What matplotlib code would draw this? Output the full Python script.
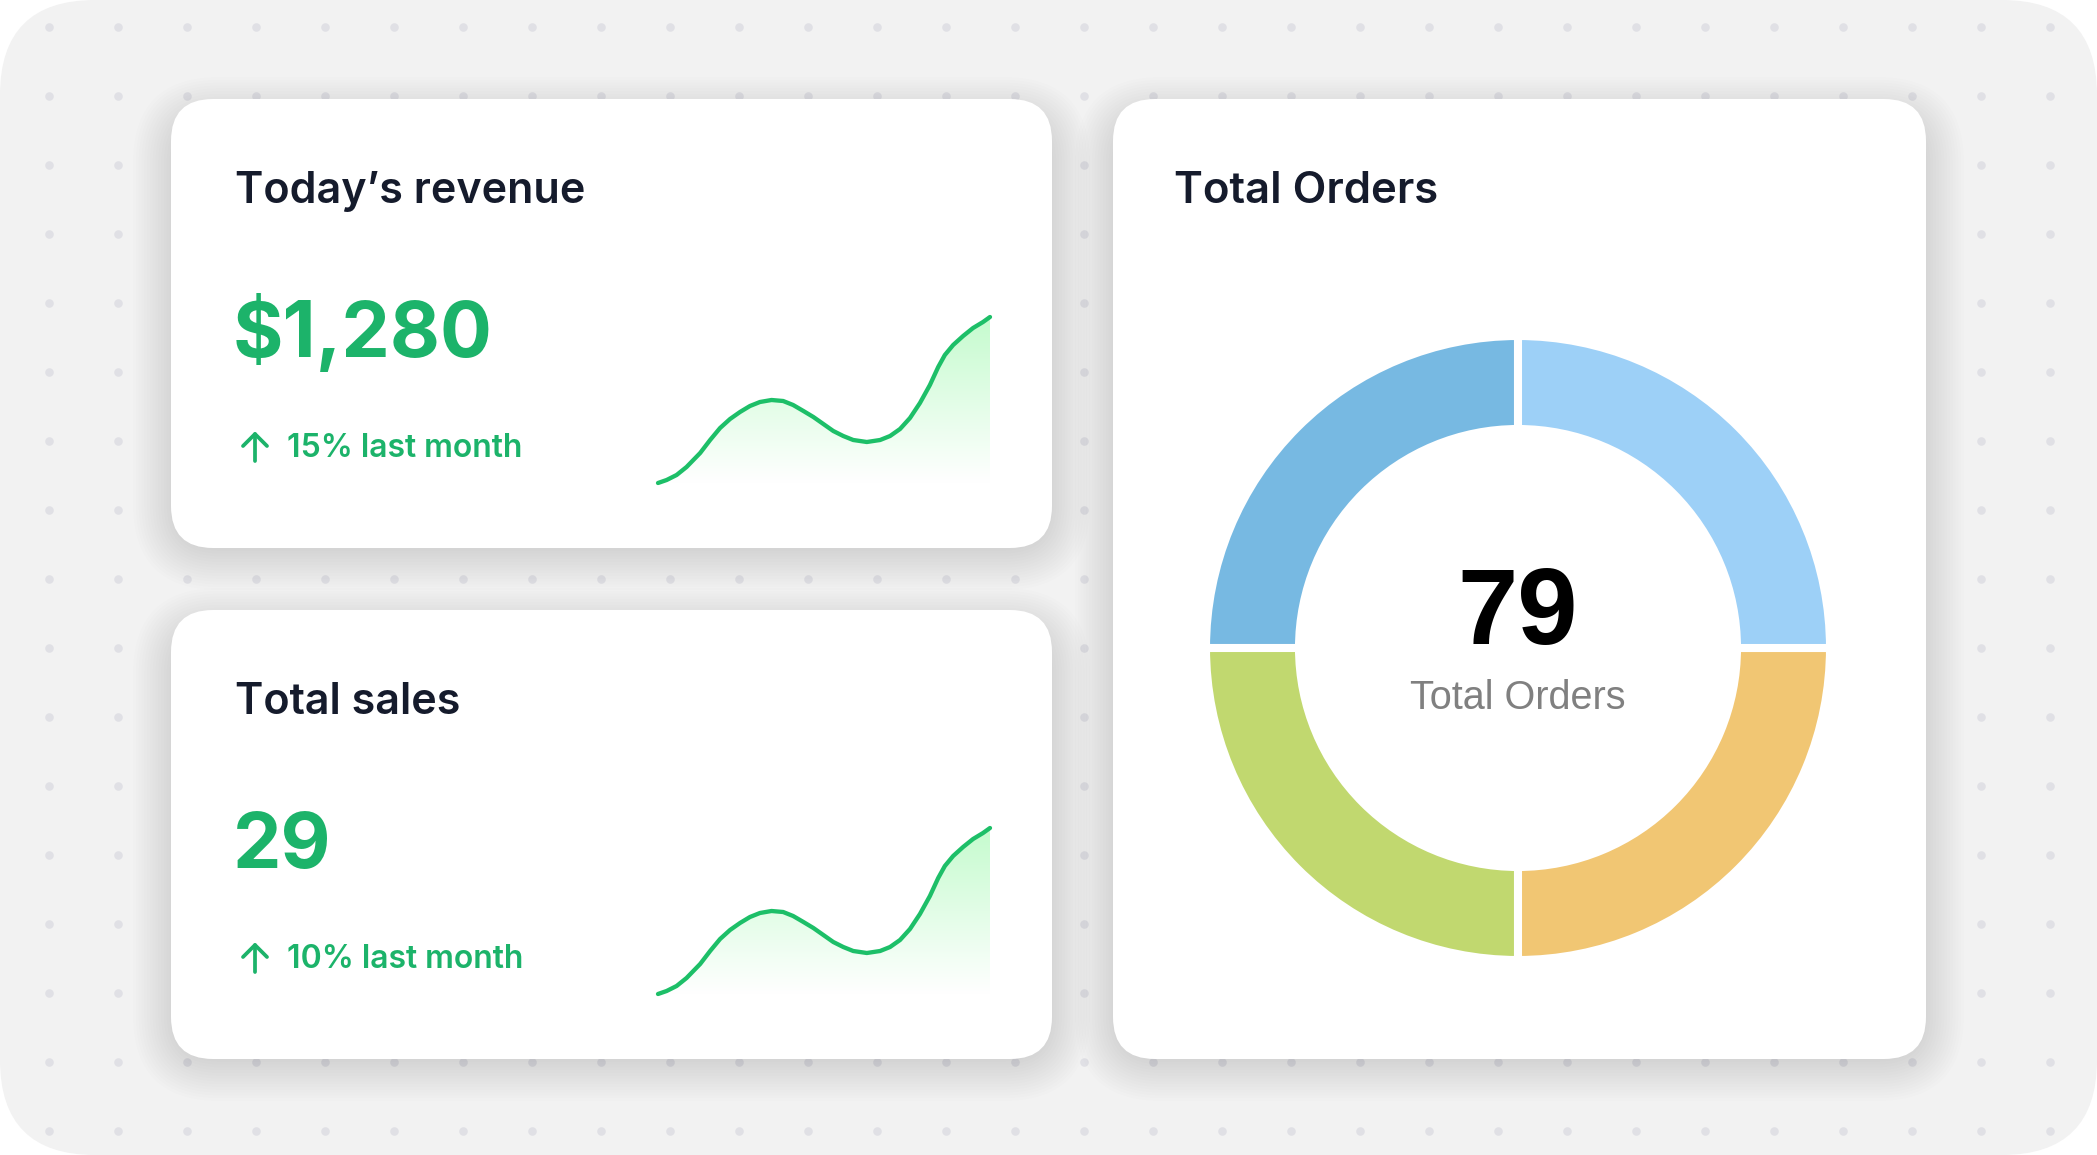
import numpy as np
import matplotlib.pyplot as plt
from matplotlib.patches import FancyBboxPatch
from matplotlib.colors import LinearSegmentedColormap

W, H = 2097, 1155

# card texts
revenue_title = "Today\u2019s revenue"
revenue_value = "$1,280"
revenue_change = "15% last month"
sales_title = "Total sales"
sales_value = "29"
sales_change = "10% last month"
orders_title = "Total Orders"
orders_total = "79"
orders_label = "Total Orders"

# sparkline readings (relative position, height above baseline)
trend_t = [0, 2.6, 5.6, 8.6, 12.7, 15.7, 18.7, 21.7, 24.7, 27.7, 30.7, 34.2,
           37.7, 40.7, 43.8, 46.8, 49.8, 52.8, 55.8, 58.8, 62.9, 66.9, 69.9,
           72.9, 75.9, 78.9, 81.9, 84.4, 86.4, 88.9, 91.9, 94.9, 97.9, 100]
revenue_trend = [0, 3, 8, 16, 30, 43, 55, 64, 71, 77, 81, 83, 82, 78, 72, 66, 59,
                 52, 47, 43, 41, 43, 47, 54, 65, 80, 98, 116, 128, 138, 147, 155,
                 161, 166]
sales_trend = [0, 3, 8, 16, 30, 43, 55, 64, 71, 77, 81, 83, 82, 78, 72, 66, 59,
               52, 47, 43, 41, 43, 47, 54, 65, 80, 98, 116, 128, 138, 147, 155,
               161, 166]

# donut segments (equal quarters)
order_share = [25, 25, 25, 25]
order_colors = ['#77b9e2', '#c1d86f', '#f1c673', '#9dd0f7']

green = '#1cb36a'
navy = '#151b2c'

fig = plt.figure(figsize=(W / 100, H / 100), dpi=100)
fig.patch.set_facecolor('white')
bg = fig.add_axes([0, 0, 1, 1])
bg.set_xlim(0, W)
bg.set_ylim(H, 0)
bg.axis('off')

# background panel with dots
bg.add_patch(FancyBboxPatch((0, 0), W, H, boxstyle="round,pad=0,rounding_size=95",
                            fc='#f2f2f2', ec='none', zorder=0))
dx, dy = np.meshgrid(np.arange(49, W, 69), np.arange(27, H, 69))
bg.scatter(dx.ravel(), dy.ravel(), s=38, color='#e0e0e5', lw=0, zorder=1)

cards = [(171, 99, 881, 449), (171, 610, 881, 449), (1113, 99, 813, 960)]
for (x, y, w, h) in cards:
    # soft shadow, heavier below the card
    for k in range(16):
        p = 2 + k * 2.8
        bg.add_patch(FancyBboxPatch((x - p + 6, y - p + 22), w + 2 * p - 12, h + 2 * p - 24,
                                    boxstyle=f"round,pad=0,rounding_size={42 + p}",
                                    fc='black', ec='none', alpha=0.007, zorder=2))
    bg.add_patch(FancyBboxPatch((x, y), w, h, boxstyle="round,pad=0,rounding_size=42",
                                fc='white', ec='none', zorder=3))

tfont = 'Inter'
for off, title, value, change in [(0, revenue_title, revenue_value, revenue_change),
                                  (511, sales_title, sales_value, sales_change)]:
    bg.text(235, 203 + off, title, fontsize=31, family=tfont, weight='semibold',
            color=navy, va='baseline', zorder=5)
    bg.text(233, 357 + off, value, fontsize=55.5, family=tfont, weight='bold',
            color=green, va='baseline', zorder=5)
    bg.text(287, 457 + off, change, fontsize=23, family=tfont, weight='semibold',
            color=green, va='baseline', zorder=5)
    # up arrow
    bg.plot([255, 255], [434 + off, 461 + off], color=green, lw=2.7,
            solid_capstyle='round', zorder=5)
    bg.plot([243, 255, 267], [446 + off, 434 + off, 446 + off], color=green, lw=2.7,
            solid_capstyle='round', solid_joinstyle='round', zorder=5)

bg.text(1174, 203, orders_title, fontsize=31.5, family=tfont, weight='semibold',
        color=navy, va='baseline', zorder=5)

# sparklines
cmap = LinearSegmentedColormap.from_list('g', ['#ffffff', '#c5fbce'])
grad = np.linspace(0, 1, 256).reshape(-1, 1)
for off, vals in [(0, revenue_trend), (511, sales_trend)]:
    ax = fig.add_axes([658 / W, 1 - (483 + off) / H, 332 / W, 166 / H])
    ax.set_xlim(0, 100)
    ax.set_ylim(0, 166)
    ax.axis('off')
    poly = ax.fill_between(trend_t, vals, 0, color='none', lw=0)
    im = ax.imshow(grad, extent=[0, 100, 0, 166], origin='lower', cmap=cmap,
                   aspect='auto', zorder=1)
    im.set_clip_path(poly.get_paths()[0], transform=ax.transData)
    ax.plot(trend_t, vals, color='#1dbf68', lw=3.1, solid_capstyle='round',
            solid_joinstyle='round', clip_on=False, zorder=2)

# donut
cx, cy, S = 1518, 648, 700
dax = fig.add_axes([(cx - S / 2) / W, 1 - (cy + S / 2) / H, S / W, S / H])
dax.pie(order_share, colors=order_colors, radius=312, startangle=90, counterclock=True,
        wedgeprops=dict(width=93, edgecolor='white', linewidth=5.8))
dax.set_xlim(-S / 2, S / 2)
dax.set_ylim(-S / 2, S / 2)
dax.set_aspect('equal')
dax.axis('off')

bg.text(cx, 644, orders_total, fontsize=78, family='Liberation Sans', weight='bold',
        color='black', ha='center', va='baseline', zorder=5)
bg.text(cx, 709, orders_label, fontsize=28.5, family='Liberation Sans',
        color='#808080', ha='center', va='baseline', zorder=5)

fig.savefig('out.png', dpi=100)
